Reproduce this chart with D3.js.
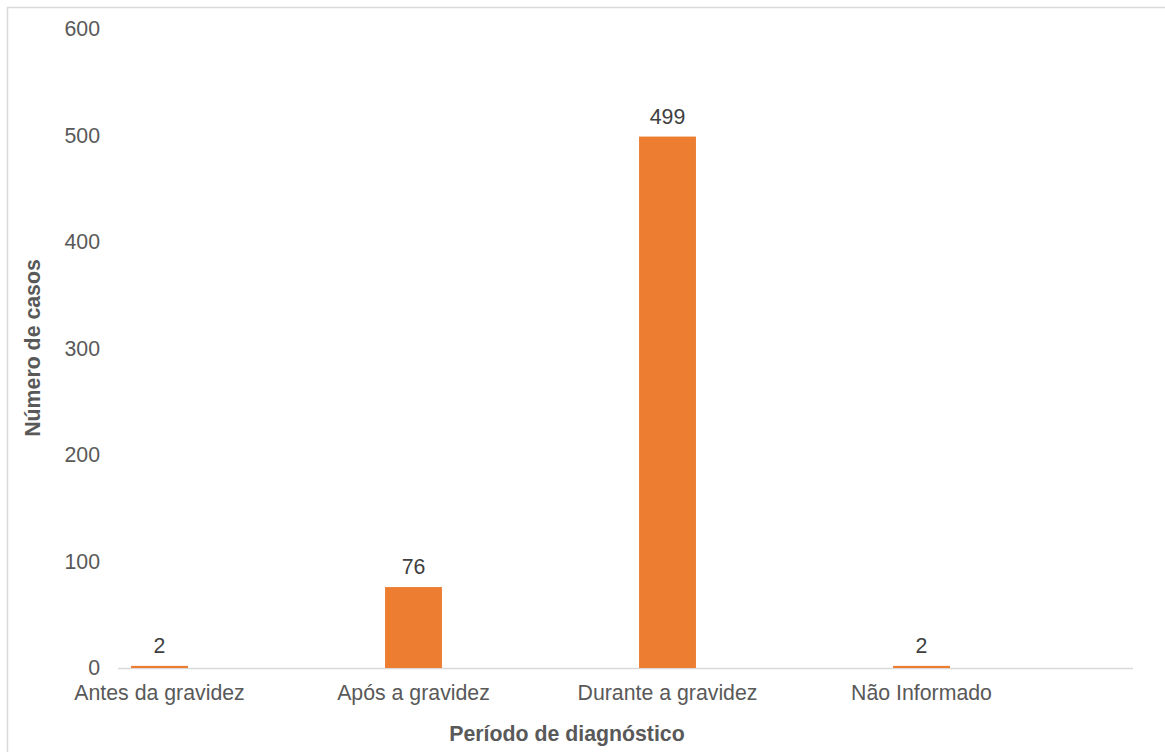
<!DOCTYPE html>
<html>
<head>
<meta charset="utf-8">
<script src="https://cdn.jsdelivr.net/npm/d3@7"></script>
<style>
  html, body { margin: 0; padding: 0; background: #fff; }
  svg { display: block; font-family: "Liberation Sans", Arial, sans-serif; }
</style>
</head>
<body>
<svg id="chart" width="1165" height="752"></svg>
<script>
const categories = ["Antes da gravidez", "Após a gravidez", "Durante a gravidez", "Não Informado"];
const values = [2, 76, 499, 2];
const yTicks = [0, 100, 200, 300, 400, 500, 600];
const xTitle = "Período de diagnóstico";
const yTitle = "Número de casos";

const svg = d3.select("#chart");
const W = 1165, H = 752;
const FS = 21.3;

// chart frame (left & top visible, rest cropped)
svg.append("rect")
  .attr("x", 7.5).attr("y", 7.5)
  .attr("width", W + 20).attr("height", H + 20)
  .attr("fill", "#fff").attr("stroke", "#d9d9d9").attr("stroke-width", 1.5);

const y = d3.scaleLinear().domain([0, 600]).range([668, 29]);
const x = d3.scaleBand().domain(categories).range([32.5, 32.5 + 254 * 4]).padding(0);
const barW = x.bandwidth() * 0.224;

// x axis baseline
svg.append("line")
  .attr("x1", 118).attr("x2", 1133)
  .attr("y1", y(0) + 0.5).attr("y2", y(0) + 0.5)
  .attr("stroke", "#d9d9d9").attr("stroke-width", 1.3);

// y tick labels
svg.append("g").selectAll("text").data(yTicks).join("text")
  .attr("x", 100).attr("y", d => y(d))
  .attr("dy", "0.35em")
  .attr("text-anchor", "end")
  .attr("font-size", FS).attr("fill", "#595959")
  .text(d => d);

// bars
svg.append("g").selectAll("rect").data(values).join("rect")
  .attr("x", (d, i) => x(categories[i]) + x.bandwidth() / 2 - barW / 2)
  .attr("y", d => y(d))
  .attr("width", barW)
  .attr("height", d => y(0) - y(d))
  .attr("fill", "#ED7D31");

// data labels
svg.append("g").selectAll("text").data(values).join("text")
  .attr("x", (d, i) => x(categories[i]) + x.bandwidth() / 2)
  .attr("y", d => y(d) - 13)
  .attr("text-anchor", "middle")
  .attr("font-size", FS).attr("fill", "#404040")
  .text(d => d);

// category labels
svg.append("g").selectAll("text").data(categories).join("text")
  .attr("x", d => x(d) + x.bandwidth() / 2)
  .attr("y", 700)
  .attr("text-anchor", "middle")
  .attr("font-size", FS).attr("fill", "#595959")
  .text(d => d);

// axis titles
svg.append("text")
  .attr("x", 567).attr("y", 741)
  .attr("text-anchor", "middle")
  .attr("font-size", FS).attr("font-weight", "bold").attr("fill", "#595959")
  .text(xTitle);

svg.append("text")
  .attr("transform", "translate(40,348) rotate(-90)")
  .attr("text-anchor", "middle")
  .attr("font-size", FS).attr("font-weight", "bold").attr("fill", "#595959")
  .text(yTitle);
</script>
</body>
</html>
